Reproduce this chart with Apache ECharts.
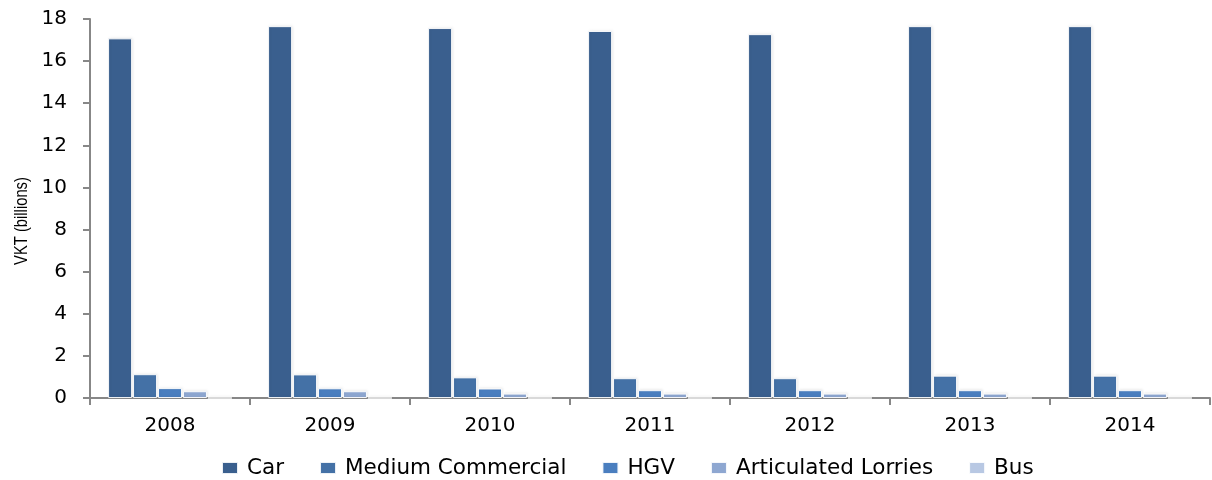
<!DOCTYPE html>
<html>
<head>
<meta charset="utf-8">
<script src="https://cdn.jsdelivr.net/npm/echarts@6/dist/echarts.min.js"></script>
<style>
  html, body { margin: 0; padding: 0; background: #fff; }
  #chart { width: 1212px; height: 480px; }
</style>
</head>
<body>
<div id="chart"></div>
<script>
// Vehicle kilometres travelled by vehicle type, billions
const years = ['2008', '2009', '2010', '2011', '2012', '2013', '2014'];
const car = [17.08, 17.66, 17.57, 17.43, 17.28, 17.66, 17.66];
const mediumCommercial = [1.13, 1.12, 0.98, 0.94, 0.94, 1.06, 1.06];
const hgv = [0.47, 0.46, 0.45, 0.37, 0.37, 0.37, 0.37];
const articulatedLorries = [0.32, 0.32, 0.21, 0.21, 0.21, 0.21, 0.21];
const bus = [0, 0, 0, 0, 0, 0, 0];
const yTicks = [0, 2, 4, 6, 8, 10, 12, 14, 16, 18];
const yTitle = 'VKT (billions)';

const seriesDefs = [
  { name: 'Car', data: car, color: '#3a5f8e' },
  { name: 'Medium Commercial', data: mediumCommercial, color: '#4471a6' },
  { name: 'HGV', data: hgv, color: '#4a7ebf' },
  { name: 'Articulated Lorries', data: articulatedLorries, color: '#8ea7d1' },
  { name: 'Bus', data: bus, color: '#b8c8e3' }
];

const chart = echarts.init(document.getElementById('chart'), null, { renderer: 'canvas' });
const labelFont = { fontFamily: 'DejaVu Sans', fontSize: 20, color: '#000' };

chart.setOption({
  animation: false,
  grid: { left: 90, right: 2, top: 19, bottom: 82, containLabel: false },
  graphic: [{
    // condensed, rotated axis title
    type: 'text',
    rotation: Math.PI / 2,
    scaleX: 0.82,
    x: 22, y: 221,
    style: {
      text: yTitle,
      fontFamily: 'Liberation Sans',
      fontSize: 18,
      fill: '#000',
      align: 'center',
      verticalAlign: 'middle'
    }
  }],
  legend: {
    top: 452,
    left: 216,
    itemWidth: 16,
    itemHeight: 12,
    itemGap: 35,
    icon: 'rect',
    textStyle: { fontFamily: 'DejaVu Sans', fontSize: 21.5, color: '#000', padding: [0, 0, 0, 4] },
    data: seriesDefs.map(s => s.name)
  },
  xAxis: {
    type: 'category',
    data: years,
    axisLine: { lineStyle: { color: '#878787', width: 2 } },
    axisTick: { show: true, length: 7, lineStyle: { color: '#878787', width: 2 } },
    axisLabel: Object.assign({ margin: 18 }, labelFont),
    splitLine: { show: false }
  },
  yAxis: {
    type: 'value',
    min: 0,
    max: 18,
    interval: 2,
    axisLine: { show: true, lineStyle: { color: '#878787', width: 2 } },
    axisTick: { show: true, length: 7, lineStyle: { color: '#878787', width: 2 } },
    axisLabel: Object.assign({ margin: 23, formatter: v => (yTicks.includes(v) ? String(v) : '') }, labelFont),
    splitLine: { show: false }
  },
  series: seriesDefs.map(s => ({
    name: s.name,
    type: 'bar',
    data: s.data,
    barWidth: 24,
    barGap: '4%',
    itemStyle: {
      color: s.color,
      borderColor: 'rgba(255,255,255,0.9)',
      borderWidth: 1,
      shadowColor: 'rgba(0,0,0,0.08)',
      shadowBlur: 3,
      shadowOffsetX: 1,
      shadowOffsetY: -1
    }
  }))
});
</script>
</body>
</html>
